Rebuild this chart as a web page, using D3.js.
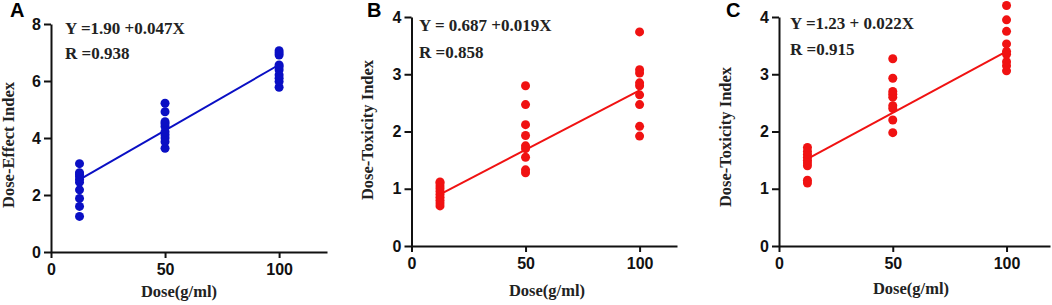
<!DOCTYPE html>
<html>
<head>
<meta charset="utf-8">
<script src="https://cdn.jsdelivr.net/npm/d3@7"></script>
<style>
  body { margin: 0; background: #fff; }
  .serif { font-family: "Liberation Serif", "Times New Roman", serif; font-weight: bold; fill: #222; }
  .letter { font-family: "Liberation Sans", Arial, sans-serif; font-weight: bold; font-size: 20px; fill: #000; }
</style>
</head>
<body>
<svg width="1052" height="305"></svg>
<script>
// dose levels (g/ml)
const doses = [12.5, 50, 100];
const xTicks = [0, 50, 100];

// Panel A: dose-effect index per dose
const effectLow = [1.25, 1.6, 1.88, 2.18, 2.45, 2.55, 2.65, 2.72, 2.78, 3.1];
const effectMid = [3.64, 3.87, 4.0, 4.11, 4.22, 4.4, 4.5, 4.57, 4.92, 5.22];
const effectHigh = [5.78, 5.98, 6.1, 6.21, 6.39, 6.5, 6.56, 6.91, 6.98, 7.06];
const fitA = [2.54, 6.57]; // line value at 12.5 and 100

// Panel B: dose-toxicity index
const toxBLow = [0.7, 0.75, 0.8, 0.85, 0.9, 0.95, 1.0, 1.05, 1.1, 1.12];
const toxBMid = [1.28, 1.33, 1.55, 1.7, 1.75, 1.93, 2.12, 2.47, 2.8];
const toxBHigh = [1.92, 2.09, 2.47, 2.64, 2.8, 2.85, 3.02, 3.08, 3.74];
const fitB = [0.9, 2.72];

// Panel C: dose-toxicity index
const toxCLow = [1.1, 1.15, 1.4, 1.45, 1.5, 1.55, 1.6, 1.65, 1.72];
const toxCMid = [1.98, 2.2, 2.4, 2.45, 2.6, 2.65, 2.7, 2.93, 3.27];
const toxCHigh = [3.06, 3.15, 3.22, 3.35, 3.4, 3.53, 3.75, 3.95, 4.2];
const fitC = [1.52, 3.4];

const panels = [
  { letter: "A", groups: [effectLow, effectMid, effectHigh], fit: fitA,
    color: "#0a0fc4", yMax: 8, yTicks: [0, 2, 4, 6, 8], yLabel: "Dose-Effect Index",
    eq: "Y =1.90 +0.047X", r: "R =0.938",
    x0: 51, xEnd: 327, xMax: 121, yTop: 24, yBot: 252,
    letterX: 10, eqX: 65, eqY: 34, rY: 59, yLabX: 14, yLabY: 145, xLabX: 179, xLabY: 297 },
  { letter: "B", groups: [toxBLow, toxBMid, toxBHigh], fit: fitB,
    color: "#f01212", yMax: 4, yTicks: [0, 1, 2, 3, 4], yLabel: "Dose-Toxicity Index",
    eq: "Y = 0.687 +0.019X", r: "R =0.858",
    x0: 411.5, xEnd: 677, xMax: 116.4, yTop: 17, yBot: 246,
    letterX: 367, eqX: 419, eqY: 31, rY: 58, yLabX: 373, yLabY: 130, xLabX: 547, xLabY: 296 },
  { letter: "C", groups: [toxCLow, toxCMid, toxCHigh], fit: fitC,
    color: "#f01212", yMax: 4, yTicks: [0, 1, 2, 3, 4], yLabel: "Dose-Toxicity Index",
    eq: "Y =1.23 + 0.022X", r: "R =0.915",
    x0: 779, xEnd: 1050, xMax: 119.1, yTop: 17, yBot: 246,
    letterX: 726, eqX: 790, eqY: 29, rY: 55, yLabX: 731, yLabY: 137, xLabX: 911, xLabY: 294 }
];

const svg = d3.select("svg");

panels.forEach(p => {
  const g = svg.append("g");

  const xScale = d3.scaleLinear().domain([0, p.xMax]).range([p.x0, p.xEnd]);
  const yScale = d3.scaleLinear().domain([0, p.yMax]).range([p.yBot, p.yTop]);

  // axes
  const xAxis = g.append("g")
    .attr("transform", `translate(0,${p.yBot})`)
    .call(d3.axisBottom(xScale).tickValues(xTicks).tickFormat(d3.format("d"))
      .tickSize(6).tickPadding(6).tickSizeOuter(0));
  const yAxis = g.append("g")
    .attr("transform", `translate(${p.x0},0)`)
    .call(d3.axisLeft(yScale).tickValues(p.yTicks).tickFormat(d3.format("d"))
      .tickSize(7).tickPadding(3).tickSizeOuter(0));

  [xAxis, yAxis].forEach(a => {
    a.select(".domain").attr("stroke", "#111").attr("stroke-width", 2);
    a.selectAll(".tick line").attr("stroke", "#111").attr("stroke-width", 2);
    a.selectAll(".tick text")
      .attr("fill", "#111")
      .style("font-family", "'Liberation Sans', Arial, sans-serif")
      .style("font-weight", "bold")
      .style("font-size", "16px");
  });

  // fit line
  g.append("line")
    .attr("x1", xScale(doses[0])).attr("y1", yScale(p.fit[0]))
    .attr("x2", xScale(doses[2])).attr("y2", yScale(p.fit[1]))
    .attr("stroke", p.color).attr("stroke-width", 2);

  // points
  p.groups.forEach((vals, i) => {
    g.selectAll(null)
      .data(vals)
      .enter().append("circle")
      .attr("cx", xScale(doses[i]))
      .attr("cy", d => yScale(d))
      .attr("r", 4.5)
      .attr("fill", p.color);
  });

  // texts
  g.append("text").attr("class", "letter")
    .attr("x", p.letterX).attr("y", 17).text(p.letter);

  g.append("text").attr("class", "serif").style("font-size", "17px")
    .attr("x", p.eqX).attr("y", p.eqY).text(p.eq);
  g.append("text").attr("class", "serif").style("font-size", "17px")
    .attr("x", p.eqX).attr("y", p.rY).text(p.r);

  g.append("text").attr("class", "serif").style("font-size", "16.5px")
    .attr("text-anchor", "middle")
    .attr("transform", `translate(${p.yLabX},${p.yLabY}) rotate(-90)`)
    .text(p.yLabel);

  g.append("text").attr("class", "serif").style("font-size", "16.5px")
    .attr("text-anchor", "middle")
    .attr("x", p.xLabX).attr("y", p.xLabY)
    .text("Dose(g/ml)");
});
</script>
</body>
</html>
